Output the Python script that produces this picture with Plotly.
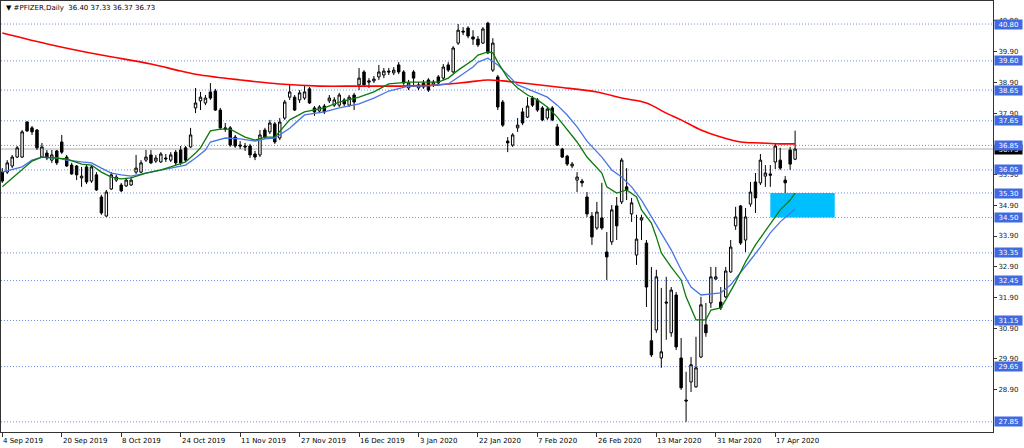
import pandas as pd
import plotly.graph_objects as go

# ---------------- data ----------------
HOLIDAYS = ["2019-11-28", "2019-12-25", "2020-01-01", "2020-01-20", "2020-02-17", "2020-04-10"]
dates = [d.strftime("%Y-%m-%d") for d in pd.bdate_range("2019-09-04", "2020-04-23")
         if d.strftime("%Y-%m-%d") not in HOLIDAYS]

opens = [35.98, 35.98, 36.18, 36.47, 36.47, 37.61, 37.42, 37.35, 36.47, 36.60,
         36.37, 36.67, 36.96, 36.47, 36.21, 36.18, 35.79, 36.15, 35.69, 35.89,
         35.17, 34.55, 35.43, 35.72, 35.56, 35.53, 35.56, 35.98, 35.98, 36.37,
         36.54, 36.34, 36.31, 36.44, 36.37, 36.63, 36.70, 36.77, 36.80, 38.07,
         38.30, 38.23, 38.59, 38.62, 38.00, 37.42, 37.42, 37.12, 36.86, 36.83,
         36.83, 36.57, 36.54, 37.35, 37.29, 37.55, 37.09, 37.74, 38.42, 38.42,
         38.33, 38.39, 38.69, 38.07, 37.97, 38.13, 38.30, 38.16, 38.16, 38.33,
         38.16, 38.49, 38.82, 39.24, 38.95, 38.95, 39.08, 39.14, 39.27, 39.21,
         39.47, 39.24, 38.72, 39.24, 38.72, 38.88, 38.98, 38.82, 39.08, 39.04,
         39.47, 39.24, 40.18, 40.57, 40.67, 40.38, 40.31, 40.18, 40.83, 39.30,
         39.08, 38.26, 36.99, 36.86, 37.42, 37.94, 37.77, 38.39, 38.33, 38.07,
         37.74, 38.07, 37.45, 36.73, 36.50, 36.18, 35.72, 35.69, 35.17, 34.55,
         34.16, 34.49, 33.38, 33.71, 34.88, 35.01, 35.50, 34.62, 33.28, 34.42,
         33.67, 30.49, 30.84, 29.93, 31.75, 30.75, 31.98, 29.93, 28.56, 29.15,
         28.99, 29.96, 31.01, 31.72, 32.50, 31.75, 31.92, 32.73, 34.23, 34.88,
         33.77, 34.94, 35.66, 35.63, 35.85, 35.92, 36.31, 36.37, 35.72, 36.70,
         36.40]
highs = [36.11, 36.37, 36.54, 36.83, 37.35, 37.64, 37.48, 37.38, 36.93, 36.70,
         36.70, 36.70, 37.19, 36.54, 36.28, 36.21, 36.15, 36.21, 36.21, 35.98,
         35.24, 35.40, 35.98, 35.89, 35.63, 35.79, 35.82, 36.54, 36.37, 36.70,
         36.70, 36.54, 36.63, 36.57, 36.63, 36.70, 36.83, 36.83, 37.42, 38.72,
         38.59, 38.49, 38.88, 38.69, 38.07, 37.58, 37.48, 37.19, 36.99, 36.93,
         36.90, 36.67, 37.35, 37.42, 37.68, 37.61, 37.74, 38.33, 38.82, 38.49,
         38.65, 38.78, 38.75, 38.13, 38.16, 38.20, 38.49, 38.42, 38.56, 38.39,
         38.49, 38.56, 39.37, 39.30, 39.04, 39.11, 39.47, 39.37, 39.37, 39.40,
         39.56, 39.30, 38.98, 39.30, 38.91, 38.98, 39.04, 38.98, 39.14, 39.50,
         39.56, 40.08, 40.80, 40.70, 40.73, 40.60, 40.41, 40.70, 40.87, 40.34,
         39.14, 38.33, 37.12, 37.25, 37.74, 38.07, 38.42, 38.46, 38.39, 38.13,
         38.10, 38.13, 37.55, 36.77, 36.54, 36.31, 35.98, 35.76, 35.33, 34.68,
         35.01, 35.63, 34.03, 34.91, 35.17, 36.44, 36.11, 35.14, 34.59, 34.59,
         33.77, 32.89, 32.80, 32.21, 32.57, 32.24, 32.08, 30.58, 29.48, 29.96,
         30.62, 31.92, 31.72, 32.89, 32.89, 32.24, 32.89, 33.77, 34.85, 34.91,
         34.81, 35.66, 35.95, 36.57, 36.21, 36.21, 36.93, 36.77, 35.85, 36.80,
         37.33]
lows = [35.63, 35.92, 36.11, 36.44, 36.44, 37.29, 37.19, 36.70, 36.44, 36.37,
        36.28, 36.21, 36.57, 36.15, 35.89, 35.72, 35.50, 35.59, 35.63, 35.37,
        34.59, 34.52, 35.40, 35.66, 35.33, 35.50, 35.53, 35.92, 35.95, 36.31,
        36.24, 36.28, 36.28, 36.31, 36.31, 36.21, 36.21, 36.31, 36.77, 37.90,
        38.00, 38.16, 38.33, 37.97, 37.35, 37.29, 36.80, 36.77, 36.73, 36.67,
        36.44, 36.37, 36.47, 37.06, 37.22, 36.90, 37.02, 37.68, 38.33, 37.97,
        38.23, 38.33, 38.20, 37.81, 37.90, 37.87, 38.23, 38.10, 38.10, 38.13,
        38.10, 38.00, 38.65, 38.75, 38.72, 38.88, 38.98, 39.04, 39.14, 39.14,
        39.17, 38.82, 38.65, 38.75, 38.65, 38.69, 38.59, 38.75, 38.82, 38.98,
        39.24, 39.21, 40.12, 40.44, 40.34, 40.12, 40.05, 40.15, 39.82, 39.24,
        38.00, 37.45, 36.63, 36.80, 37.29, 37.51, 37.74, 38.10, 37.94, 37.64,
        37.68, 37.64, 36.83, 36.44, 36.18, 36.11, 35.33, 35.50, 34.52, 33.61,
        34.10, 34.10, 32.47, 33.61, 33.77, 34.94, 35.07, 34.36, 32.96, 33.77,
        31.59, 29.96, 30.75, 29.61, 30.52, 30.62, 30.19, 28.89, 27.85, 28.82,
        28.96, 29.93, 30.62, 31.56, 32.47, 31.49, 31.88, 32.70, 34.10, 33.61,
        33.38, 34.85, 34.65, 35.56, 35.50, 35.50, 36.08, 36.05, 35.30, 36.05,
        36.37]
closes = [35.69, 36.28, 36.47, 36.77, 37.29, 37.32, 37.29, 36.77, 36.80, 36.44,
          36.54, 36.28, 36.63, 36.18, 35.92, 35.89, 35.85, 35.66, 36.15, 35.40,
          34.65, 35.33, 35.89, 35.82, 35.37, 35.72, 35.72, 36.11, 36.28, 36.47,
          36.28, 36.44, 36.57, 36.41, 36.54, 36.28, 36.28, 36.37, 37.19, 38.23,
          38.42, 38.39, 38.39, 38.00, 37.42, 37.38, 36.86, 36.83, 36.83, 36.80,
          36.54, 36.47, 37.19, 37.12, 37.58, 36.96, 37.61, 38.26, 38.59, 38.00,
          38.56, 38.59, 38.23, 37.94, 38.10, 37.94, 38.39, 38.33, 38.49, 38.20,
          38.42, 38.26, 39.04, 38.82, 38.91, 39.01, 39.24, 39.27, 39.24, 39.30,
          39.24, 38.88, 38.88, 39.04, 38.82, 38.75, 38.65, 38.91, 38.88, 39.40,
          39.30, 40.02, 40.60, 40.54, 40.41, 40.31, 40.12, 40.64, 39.86, 40.18,
          38.10, 37.51, 36.93, 37.19, 37.51, 37.58, 38.13, 38.16, 38.00, 37.68,
          38.03, 37.68, 36.86, 36.47, 36.24, 36.24, 35.82, 35.63, 34.62, 33.87,
          34.68, 34.16, 33.22, 34.75, 34.23, 36.37, 35.40, 34.98, 33.80, 34.49,
          32.24, 30.03, 32.57, 30.13, 31.72, 32.14, 30.29, 28.96, 28.53, 29.71,
          29.61, 31.66, 30.75, 32.57, 32.57, 31.56, 32.76, 33.54, 34.52, 33.67,
          34.52, 35.33, 35.14, 36.37, 35.95, 35.88, 36.83, 36.11, 35.63, 36.24,
          36.73]

# moving averages (bar index, value)
green_idx = [0, 4, 6, 8, 11, 13, 16, 18, 20, 22, 24, 26, 29, 32, 34, 37, 39, 40, 42, 44,
             46, 48, 49, 51, 53, 55, 58, 61, 65, 68, 72, 75, 78, 82, 85, 88, 90, 92, 95, 96,
             98, 99, 100, 102, 104, 106, 108, 110, 112, 114, 116, 118, 121, 122, 124, 126, 128, 129, 131, 132,
             133, 135, 137, 138, 140, 142, 143, 145, 146, 148, 150, 152, 155, 157, 159, 160]
green_val = [35.50, 36.05, 36.34, 36.47, 36.44, 36.41, 36.24, 36.21, 35.98, 35.82,
             35.76, 35.79, 35.95, 36.05, 36.15, 36.31, 36.60, 36.77, 37.32, 37.38,
             37.38, 37.22, 37.12, 37.02, 37.12, 37.12, 37.68, 37.94, 38.07, 38.26,
             38.42, 38.59, 38.85, 38.91, 38.91, 38.91, 39.04, 39.30, 39.63, 39.79,
             39.89, 39.86, 39.56, 39.04, 38.72, 38.49, 38.33, 38.10, 37.77, 37.35,
             36.96, 36.47, 35.95, 35.50, 35.30, 35.40, 35.17, 34.75, 34.32, 33.87,
             33.35, 32.89, 32.47, 31.92, 31.17, 31.17, 31.49, 31.56, 31.82, 32.40,
             33.06, 33.61, 34.29, 34.75, 35.07, 35.30]
blue_idx = [0, 4, 6, 8, 11, 13, 16, 18, 20, 22, 24, 26, 29, 32, 34, 37, 39, 41, 42, 45,
            48, 51, 53, 55, 58, 61, 65, 68, 72, 75, 78, 82, 85, 88, 90, 92, 95, 96, 98, 100,
            102, 104, 106, 108, 110, 112, 114, 116, 118, 121, 123, 125, 127, 129, 131, 133, 135, 137, 139, 141,
            143, 145, 147, 149, 151, 153, 155, 157, 160]
blue_val = [35.98, 36.15, 36.37, 36.47, 36.44, 36.37, 36.31, 36.28, 36.11, 35.95,
            35.89, 35.85, 35.95, 36.05, 36.11, 36.21, 36.44, 36.70, 36.96, 37.09,
            37.06, 36.99, 37.06, 37.09, 37.41, 37.84, 37.94, 38.07, 38.20, 38.39,
            38.62, 38.78, 38.78, 38.82, 38.85, 39.07, 39.40, 39.56, 39.69, 39.47,
            39.14, 38.82, 38.69, 38.56, 38.42, 38.16, 37.84, 37.45, 36.99, 36.47,
            36.05, 35.82, 35.50, 35.07, 34.52, 34.00, 33.45, 32.80, 32.24, 31.98,
            32.01, 32.05, 32.31, 32.70, 33.12, 33.54, 34.00, 34.36, 34.78]
red_idx = [0, 10, 20, 30, 36, 40, 48, 56, 64, 72, 80, 88, 94, 98, 101, 105, 112, 120, 125, 130,
           134, 137, 141, 145, 149, 153, 157, 160]
red_val = [40.51, 40.12, 39.79, 39.50, 39.27, 39.14, 38.98, 38.85, 38.78, 38.78,
           38.78, 38.82, 38.91, 38.98, 38.95, 38.88, 38.75, 38.59, 38.39, 38.23,
           37.90, 37.68, 37.35, 37.12, 36.96, 36.93, 36.90, 36.90]

tick_dates = ["2019-09-04", "2019-09-20", "2019-10-08", "2019-10-24", "2019-11-11", "2019-11-27",
              "2019-12-16", "2020-01-03", "2020-01-22", "2020-02-07", "2020-02-26", "2020-03-13",
              "2020-03-31", "2020-04-17"]
tick_labels = ["4 Sep 2019", "20 Sep 2019", "8 Oct 2019", "24 Oct 2019", "11 Nov 2019", "27 Nov 2019",
               "16 Dec 2019", "3 Jan 2020", "22 Jan 2020", "7 Feb 2020", "26 Feb 2020", "13 Mar 2020",
               "31 Mar 2020", "17 Apr 2020"]
price_ticks = [28.90, 29.90, 30.90, 31.90, 32.90, 33.90, 34.90, 35.90,
               37.90, 38.90, 39.90, 40.90]
level_values = [40.80, 39.60, 38.65, 37.65, 36.85, 36.05, 35.30, 34.50, 33.35, 32.45, 31.15, 29.65, 27.85]
level_labels = ["40.80", "39.60", "38.65", "37.65", "36.85", "36.05", "35.30", "34.50",
                "33.35", "32.45", "31.15", "29.65", "27.85"]
zone_low, zone_high = 34.50, 35.30
zone_start, zone_end = 155.0, 168.0
last_price = 36.73
title_text = "\u25BC #PFIZER,Daily\u00a0\u00a036.40 37.33 36.37 36.73"

# ---------------- figure ----------------
FONT = "DejaVu Sans"
LEVEL_COLOR = "#6f8fe8"
LABEL_BG = "#4169e1"

x = list(range(len(dates)))
fig = go.Figure()

fig.add_trace(go.Candlestick(
    x=x, open=opens, high=highs, low=lows, close=closes,
    increasing=dict(line=dict(color="black", width=1), fillcolor="white"),
    decreasing=dict(line=dict(color="black", width=1), fillcolor="black"),
    whiskerwidth=0, hoverinfo="skip", showlegend=False,
))
fig.add_trace(go.Scatter(x=red_idx, y=red_val, mode="lines", line=dict(color="#ff0000", width=1.6, shape="spline"),
                         hoverinfo="skip", showlegend=False))
fig.add_trace(go.Scatter(x=blue_idx, y=blue_val, mode="lines", line=dict(color="#4a74e6", width=1.3),
                         hoverinfo="skip", showlegend=False))
fig.add_trace(go.Scatter(x=green_idx, y=green_val, mode="lines", line=dict(color="#0a7a0a", width=1.3),
                         hoverinfo="skip", showlegend=False))

shapes = []
for lv in level_values:
    shapes.append(dict(type="line", xref="paper", x0=0, x1=1, yref="y", y0=lv, y1=lv,
                       line=dict(color=LEVEL_COLOR, width=1, dash="1px,2px"), layer="below"))
shapes.append(dict(type="line", xref="paper", x0=0, x1=1, yref="y", y0=last_price, y1=last_price,
                   line=dict(color="#c8c8c8", width=1.5), layer="below"))
shapes.append(dict(type="rect", xref="x", x0=zone_start, x1=zone_end, yref="y", y0=zone_low, y1=zone_high,
                   fillcolor="#00bfff", line=dict(width=0), layer="below"))

annotations = []
for d, lab in zip(tick_dates, tick_labels):
    annotations.append(dict(x=dates.index(d), xref="x", y=0, yref="paper", yanchor="top", xanchor="left",
                            yshift=-3, xshift=-1, text=lab, showarrow=False,
                            font=dict(family=FONT, size=7, color="black")))
annotations.append(dict(x=1, xref="paper", xanchor="left", xshift=1, y=last_price, yref="y", yanchor="middle",
                        text=f"{last_price:.2f}", showarrow=False, bgcolor="black", width=27, height=9, borderpad=0,
                        font=dict(family=FONT, size=7, color="white")))
for lv, lab in zip(level_values, level_labels):
    annotations.append(dict(x=1, xref="paper", xanchor="left", xshift=1, y=lv, yref="y", yanchor="middle",
                            text=lab, showarrow=False, bgcolor=LABEL_BG, width=27, height=9, borderpad=0,
                            font=dict(family=FONT, size=7, color="white")))
annotations.append(dict(x=0, xref="paper", y=1, yref="paper", xanchor="left", yanchor="top", xshift=3, yshift=-1,
                        text=title_text, showarrow=False, font=dict(family=FONT, size=7, color="black")))

fig.update_layout(
    width=1024, height=448,
    margin=dict(l=1, r=31, t=1, b=16),
    paper_bgcolor="white", plot_bgcolor="white",
    shapes=shapes, annotations=annotations,
    showlegend=False,
    xaxis=dict(range=[-0.26, 199.94], showgrid=False, zeroline=False, rangeslider=dict(visible=False),
               showline=True, mirror=True, linecolor="#333333", linewidth=1,
               tickmode="array", tickvals=[dates.index(d) for d in tick_dates], showticklabels=False,
               ticks="outside", ticklen=4, tickcolor="#333333"),
    yaxis=dict(range=[27.52, 41.55], side="right", showgrid=False, zeroline=False,
               showline=True, mirror=True, linecolor="#333333", linewidth=1,
               tickmode="array", tickvals=price_ticks, ticktext=[f"{v:.2f}" for v in price_ticks],
               ticks="outside", ticklen=3, tickcolor="#333333",
               tickfont=dict(family=FONT, size=7, color="#222222")),
    font=dict(family=FONT, size=7),
)

fig.write_html("out.html", config={"displayModeBar": False},
               post_script="document.body.style.margin='0';document.body.style.overflow='hidden';")
